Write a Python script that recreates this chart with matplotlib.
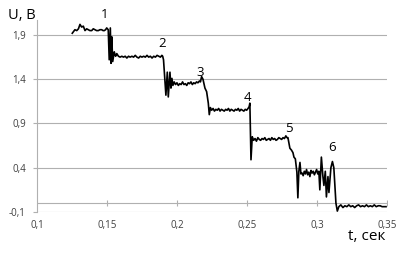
import numpy as np
import matplotlib.pyplot as plt

# signal, step by step
t1 = [0.1252, 0.1271, 0.1284, 0.1296, 0.1307, 0.1319, 0.1331, 0.1343, 0.1355, 0.1366, 0.1378,
      0.1391, 0.1402, 0.1414, 0.1426, 0.1438, 0.1450, 0.1462, 0.1472, 0.1481, 0.1490, 0.1498, 0.1509]
u1 = [1.92, 1.96, 1.95, 1.97, 2.02, 1.99, 2.00, 1.95, 1.97, 1.96, 1.95,
      1.95, 1.97, 1.96, 1.95, 1.95, 1.96, 1.96, 1.95, 1.95, 1.96, 1.98, 1.96]

# drop 1 -> 2
t12 = [0.1516, 0.1524, 0.1529, 0.1534, 0.1541, 0.1547, 0.1552, 0.1557, 0.1562]
u12 = [1.62, 1.98, 1.58, 1.88, 1.60, 1.66, 1.71, 1.68, 1.66]

t2 = [0.1570, 0.1582, 0.1594, 0.1606, 0.1618, 0.1630, 0.1642, 0.1654, 0.1666, 0.1678, 0.1690,
      0.1702, 0.1714, 0.1726, 0.1738, 0.1750, 0.1762, 0.1774, 0.1786, 0.1798, 0.1810, 0.1822,
      0.1834, 0.1846, 0.1858, 0.1870, 0.1882, 0.1892]
u2 = [1.69, 1.66, 1.65, 1.66, 1.65, 1.66, 1.64, 1.66, 1.65, 1.66, 1.65,
      1.67, 1.65, 1.64, 1.66, 1.65, 1.66, 1.65, 1.67, 1.65, 1.66, 1.64,
      1.66, 1.65, 1.67, 1.66, 1.65, 1.67]

# drop 2 -> 3
t23 = [0.1898, 0.1904, 0.1911, 0.1921, 0.1931, 0.1938, 0.1950, 0.1957, 0.1964, 0.1971]
u23 = [1.66, 1.62, 1.45, 1.22, 1.48, 1.20, 1.48, 1.30, 1.41, 1.33]

t3 = [0.1980, 0.1990, 0.2000, 0.2010, 0.2020, 0.2030, 0.2040, 0.2050, 0.2060, 0.2070, 0.2080,
      0.2090, 0.2100, 0.2110, 0.2120, 0.2130, 0.2140, 0.2150, 0.2160, 0.2168]
u3 = [1.37, 1.34, 1.36, 1.33, 1.35, 1.34, 1.37, 1.34, 1.35, 1.33, 1.36,
      1.35, 1.37, 1.34, 1.36, 1.35, 1.37, 1.36, 1.38, 1.37]

# drop 3 -> 4
t34 = [0.2176, 0.2186, 0.2200, 0.2212, 0.2224, 0.2231, 0.2239]
u34 = [1.43, 1.40, 1.30, 1.26, 1.13, 1.00, 1.08]

t4 = [0.2248, 0.2258, 0.2268, 0.2278, 0.2288, 0.2298, 0.2308, 0.2318, 0.2328, 0.2338, 0.2348,
      0.2358, 0.2368, 0.2378, 0.2388, 0.2398, 0.2408, 0.2418, 0.2428, 0.2438, 0.2448, 0.2458,
      0.2468, 0.2478, 0.2488, 0.2498, 0.2508, 0.2516]
u4 = [1.05, 1.07, 1.04, 1.06, 1.05, 1.07, 1.04, 1.06, 1.05, 1.04, 1.06,
      1.05, 1.07, 1.04, 1.06, 1.05, 1.04, 1.06, 1.05, 1.07, 1.04, 1.06,
      1.05, 1.04, 1.06, 1.05, 1.07, 1.09]

# drop 4 -> 5
t45 = [0.2521, 0.2529, 0.2538]
u45 = [1.13, 0.49, 0.75]

t5 = [0.2548, 0.2558, 0.2568, 0.2578, 0.2588, 0.2598, 0.2608, 0.2618, 0.2628, 0.2638, 0.2648,
      0.2658, 0.2668, 0.2678, 0.2688, 0.2698, 0.2708, 0.2718, 0.2728, 0.2738, 0.2748, 0.2758,
      0.2768, 0.2778, 0.2786]
u5 = [0.71, 0.73, 0.70, 0.74, 0.72, 0.71, 0.73, 0.72, 0.74, 0.71, 0.72,
      0.73, 0.71, 0.74, 0.72, 0.73, 0.71, 0.72, 0.74, 0.73, 0.72, 0.74,
      0.73, 0.76, 0.74]

# drop 5 -> 6, noisy part
t56 = [0.2793, 0.2807, 0.2818, 0.2829, 0.2836, 0.2846, 0.2857, 0.2864, 0.2871, 0.2879, 0.2886,
       0.2894, 0.2902, 0.2910, 0.2918, 0.2926, 0.2934, 0.2942, 0.2950, 0.2958, 0.2966, 0.2974,
       0.2982, 0.2990, 0.2998, 0.3006, 0.3014, 0.3021, 0.3032, 0.3043, 0.3050, 0.3060, 0.3068,
       0.3079, 0.3086, 0.3100, 0.3111, 0.3121, 0.3136, 0.3146]
u56 = [0.74, 0.62, 0.60, 0.57, 0.52, 0.50, 0.35, 0.06, 0.36, 0.46, 0.33,
       0.34, 0.31, 0.36, 0.33, 0.38, 0.32, 0.35, 0.30, 0.37, 0.34, 0.36,
       0.32, 0.35, 0.38, 0.33, 0.36, 0.15, 0.52, 0.30, 0.20, 0.36, 0.07,
       0.30, 0.12, 0.40, 0.47, 0.40, 0.00, -0.09]

t6 = [0.3157, 0.3171, 0.3186, 0.3200, 0.3214, 0.3228, 0.3242, 0.3256, 0.3270, 0.3284, 0.3298,
      0.3312, 0.3326, 0.3340, 0.3354, 0.3368, 0.3382, 0.3396, 0.3410, 0.3424, 0.3438, 0.3452,
      0.3466, 0.3480, 0.3494]
u6 = [-0.04, -0.02, -0.05, -0.03, -0.04, -0.02, -0.04, -0.03, -0.05, -0.03, -0.02,
      -0.04, -0.03, -0.04, -0.02, -0.04, -0.03, -0.04, -0.02, -0.04, -0.03, -0.03,
      -0.04, -0.04, -0.04]

t = np.array(t1 + t12 + t2 + t23 + t3 + t34 + t4 + t45 + t5 + t56 + t6)
u = np.array(u1 + u12 + u2 + u23 + u3 + u34 + u4 + u45 + u5 + u56 + u6)

step_labels = ['1', '2', '3', '4', '5', '6']
label_t = [0.1486, 0.1893, 0.2164, 0.2507, 0.2800, 0.3107]
label_u = [2.13, 1.80, 1.48, 1.19, 0.84, 0.625]

xticks = [0.1, 0.15, 0.2, 0.25, 0.3, 0.35]
xtick_labels = ['0,1', '0,15', '0,2', '0,25', '0,3', '0,35']
yticks = [-0.1, 0.4, 0.9, 1.4, 1.9]
ytick_labels = ['-0,1', '0,4', '0,9', '1,4', '1,9']

plt.rcParams['font.family'] = ['Open Sans', 'DejaVu Sans']
grey = '#b0b0b0'

fig = plt.figure(figsize=(4.04, 2.56), dpi=100)
ax = fig.add_axes([0.0916, 0.172, 0.866, 0.75])

ax.plot(t, u, color='black', lw=1.2, zorder=3)

ax.set_xlim(0.1, 0.35)
ax.set_ylim(-0.1, 2.07)

ax.set_yticks(yticks)
ax.set_yticklabels(ytick_labels, fontsize=7, color='#404040')
ax.set_xticks(xticks)
ax.set_xticklabels(xtick_labels, fontsize=7, color='#404040')
ax.tick_params(axis='x', length=0, pad=6)
ax.tick_params(axis='y', length=3, color=grey, width=0.8, pad=5)
ax.grid(axis='y', color=grey, lw=0.8)

for s in ['top', 'right', 'bottom']:
    ax.spines[s].set_visible(False)
ax.spines['left'].set_color(grey)
ax.spines['left'].set_linewidth(0.8)

# horizontal axis line at zero with cross ticks
ax.axhline(0, color=grey, lw=0.8, zorder=1)
ax.plot(xticks[1:], np.zeros(len(xticks) - 1), '|', color=grey, ms=5, mew=0.8, zorder=1)

for lab, lt, lu in zip(step_labels, label_t, label_u):
    ax.text(lt, lu, lab, fontsize=9.5, ha='center', va='center', clip_on=False)

fig.text(0.055, 0.94, 'U, B', fontsize=10.5, ha='center', va='center')
fig.text(0.953, 0.075, 't, сек', fontsize=11, ha='right', va='center')

fig.savefig('out.png', dpi=100)
